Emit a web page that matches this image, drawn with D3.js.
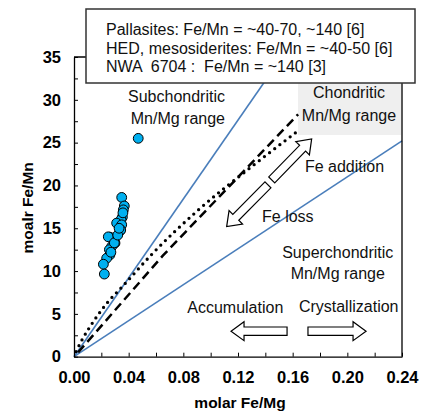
<!DOCTYPE html>
<html><head><meta charset="utf-8">
<script src="https://cdn.jsdelivr.net/npm/d3@7"></script>
<style>
body{margin:0;background:#fff;}
text{font-family:"Liberation Sans",Arial,sans-serif;}
</style></head><body>
<svg id="c" width="423" height="413"></svg>
<script>
// ---- data ----
const xTicks = [0,0.02,0.04,0.06,0.08,0.10,0.12,0.14,0.16,0.18,0.20,0.22,0.24];
const yTicks = [0,2.5,5,7.5,10,12.5,15,17.5,20,22.5,25,27.5,30,32.5,35];
const xLabelTicks = [0,0.04,0.08,0.12,0.16,0.20,0.24];
const yLabelTicks = [0,5,10,15,20,25,30,35];
// scatter samples: [Fe/Mg, Fe/Mn]
const samplesFeMg = [0.047,0.0349,0.0368,0.0361,0.0354,0.0344,0.0312,0.0349,0.0337,0.0342,0.0263,0.0293,0.0300,0.0276,0.0259,0.0263,0.0239,0.0215,0.0222,0.0251,0.0295,0.0270,0.0320,0.0330,0.0358];
const samplesFeMn = [25.5,18.6,17.6,17.15,16.3,16.0,15.6,15.4,14.7,14.8,13.96,13.6,13.27,12.87,12.5,11.9,11.5,10.8,9.65,14.0,13.3,12.2,14.2,15.0,16.8];
// reference lines
const upperLineX = [0,0.152], upperLineY = [0,35];
const lowerLineX = [0,0.24],  lowerLineY = [0,25.2];
const dashedX = [0.003,0.065,0.164], dashedY = [0.5,11.8,28.3];
const dottedX = [0.0015,0.0053,0.0146,0.0254,0.0337,0.0578,0.09,0.13,0.165];
const dottedY = [0.6,1.8,4.2,6.5,7.9,12.1,17.0,22.2,26.5];
const infoLines = ["Pallasites: Fe/Mn = ~40-70, ~140 [6]","HED, mesosiderites: Fe/Mn = ~40-50 [6]","NWA  6704 :  Fe/Mn = ~140 [3]"];
const annTexts = ["Subchondritic","Mn/Mg range","Chondritic","Mn/Mg range","Fe addition","Fe loss","Superchondritic","Mn/Mg range","Accumulation","Crystallization"];
const annX = [0.075,0.076,0.2012,0.2012,0.169,0.1376,0.193,0.193,0.118,0.201];
const annY = [29.8,27.2,30.2,27.5,21.6,15.75,11.55,9.1,5.13,5.25];
const annAnchor = ["middle","middle","middle","middle","start","start","middle","middle","middle","middle"];
// block arrows: tail -> tip in data units
const arrowTailX = [0.1559,0.1712,0.1447,0.1419];
const arrowTailY = [2.98,2.98,20.65,20.07];
const arrowTipX  = [0.1149,0.2137,0.1739,0.1117];
const arrowTipY  = [2.98,2.98,25.43,15.2];

// ---- chart ----
const svg = d3.select("#c");
const L=74, R=402, T=57, B=356.7;
const x = d3.scaleLinear().domain([0,0.24]).range([L,R]);
const y = d3.scaleLinear().domain([0,35]).range([B,T]);

// chondritic shaded zone
svg.append("rect").attr("x",298).attr("y",70).attr("width",103).attr("height",65).attr("fill","#efefef");

const blue="#4a7ebb";
const line = d3.line().x(d=>x(d[0])).y(d=>y(d[1]));
svg.append("path").attr("d",line(d3.zip(upperLineX,upperLineY))).attr("stroke",blue).attr("stroke-width",1.6).attr("fill","none");
svg.append("path").attr("d",line(d3.zip(lowerLineX,lowerLineY))).attr("stroke",blue).attr("stroke-width",1.6).attr("fill","none");
svg.append("path").attr("d",line(d3.zip(dashedX,dashedY))).attr("stroke","#000").attr("stroke-width",2.5).attr("stroke-dasharray","9,5").attr("fill","none");
svg.append("path").attr("d",d3.line().curve(d3.curveMonotoneX).x(d=>x(d[0])).y(d=>y(d[1]))(d3.zip(dottedX,dottedY)))
  .attr("stroke","#000").attr("stroke-width",3.3).attr("stroke-linecap","round").attr("stroke-dasharray","0,6.5").attr("fill","none");

// samples
svg.append("g").selectAll("circle").data(d3.zip(samplesFeMg,samplesFeMn)).join("circle")
  .attr("cx",d=>x(d[0])).attr("cy",d=>y(d[1])).attr("r",4.9)
  .attr("fill","#00b0f0").attr("stroke","#000").attr("stroke-width",1);

// frame
svg.append("path").attr("d",`M${L},${T}H${R}V${B}`).attr("stroke","#000").attr("stroke-width",1.3).attr("fill","none");

// axes
const fmtX = d=> xLabelTicks.some(v=>Math.abs(v-d)<1e-9) ? d3.format(".2f")(d) : "";
const fmtY = d=> yLabelTicks.includes(d) ? String(d) : "";
const gx = svg.append("g").attr("transform",`translate(0,${B})`)
  .call(d3.axisBottom(x).tickValues(xTicks).tickSizeInner(-4).tickSizeOuter(0).tickPadding(15).tickFormat(fmtX));
const gy = svg.append("g").attr("transform",`translate(${L},0)`)
  .call(d3.axisLeft(y).tickValues(yTicks).tickSizeInner(-4).tickSizeOuter(0).tickPadding(13).tickFormat(fmtY));
[gx,gy].forEach(g=>{
  g.select(".domain").attr("stroke","#000").attr("stroke-width",1.3);
  g.selectAll(".tick line").attr("stroke","#000").attr("stroke-width",1);
  g.selectAll("text").attr("font-family","Liberation Sans, Arial, sans-serif").attr("font-size",16.5).attr("font-weight","bold").attr("fill","#000");
});

svg.append("text").attr("x",(L+R)/2+2).attr("y",408).attr("text-anchor","middle")
  .attr("font-size",15.5).attr("font-weight","bold").text("molar Fe/Mg");
svg.append("text").attr("transform",`translate(33,${(T+B)/2+1}) rotate(-90)`).attr("text-anchor","middle")
  .attr("font-size",15.5).attr("font-weight","bold").text("moalr Fe/Mn");

// annotations
svg.append("g").selectAll("text").data(annTexts).join("text")
  .attr("x",(d,i)=>x(annX[i])).attr("y",(d,i)=>y(annY[i])).attr("text-anchor",(d,i)=>annAnchor[i])
  .attr("font-size",16).attr("fill","#111").text(d=>d);

// block arrows
function blockArrow(x1,y1,x2,y2,hw,hh,hl){
  const dx=x2-x1, dy=y2-y1, Ln=Math.hypot(dx,dy), ux=dx/Ln, uy=dy/Ln, nx=-uy, ny=ux;
  const b=Ln-hl;
  const P=(a,n)=>[x1+ux*a+nx*n, y1+uy*a+ny*n];
  return [P(0,hw),P(b,hw),P(b,hh),P(Ln,0),P(b,-hh),P(b,-hw),P(0,-hw)];
}
arrowTailX.forEach((_,i)=>{
  const pts = blockArrow(x(arrowTailX[i]),y(arrowTailY[i]),x(arrowTipX[i]),y(arrowTipY[i]),4.2,9.5,13);
  svg.append("polygon").attr("points",pts.map(p=>p.join(",")).join(" "))
    .attr("fill","#fff").attr("stroke","#000").attr("stroke-width",1.2);
});

// info box
svg.append("rect").attr("x",86).attr("y",9).attr("width",329).attr("height",74)
  .attr("fill","#fff").attr("stroke","#333").attr("stroke-width",1.5);
svg.append("g").selectAll("text").data(infoLines).join("text")
  .attr("x",106).attr("y",(d,i)=>[35,54,72][i]).attr("font-size",16).attr("fill","#111")
  .style("white-space","pre").text(d=>d);
</script>
</body></html>
